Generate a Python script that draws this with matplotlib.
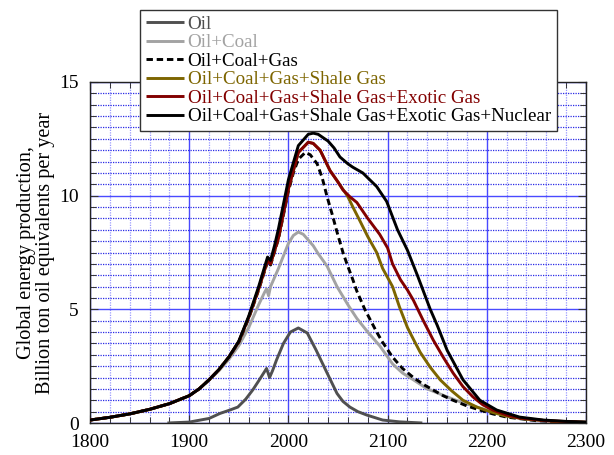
import matplotlib

matplotlib.use("Agg")
import matplotlib.pyplot as plt
from matplotlib import font_manager
from matplotlib.ticker import MultipleLocator

# -- values (year, billion toe / yr) -------------------------------------------

oil_years = [1878, 1900, 1920, 1931, 1941, 1949, 1957, 1964, 1970, 1978, 1981,
             1984, 1988, 1995, 2002, 2010, 2019, 2028, 2039, 2049, 2055, 2062,
             2070, 2079, 2095, 2112, 2135]
oil_vals = [0.0, 0.04, 0.2, 0.42, 0.57, 0.7, 1.05, 1.45, 1.85, 2.4, 2.0,
            2.3, 2.77, 3.5, 4.0, 4.18, 3.96, 3.2, 2.2, 1.3, 0.95, 0.7,
            0.5, 0.35, 0.13, 0.05, 0.0]

coal_years = [1800, 1820, 1840, 1860, 1880, 1900, 1910, 1920, 1930, 1940, 1950,
              1960, 1970, 1976, 1978, 1980, 1982, 1990, 2000, 2005, 2010, 2015,
              2020, 2025, 2030, 2039, 2049, 2060, 2069, 2080, 2092, 2105, 2115,
              2126, 2140, 2160, 2175, 2193, 2210, 2226, 2250, 2275, 2300]
coal_vals = [0.13, 0.25, 0.4, 0.6, 0.85, 1.2, 1.5, 1.88, 2.3, 2.8, 3.4,
             4.2, 5.2, 5.75, 5.9, 5.6, 6.0, 6.8, 7.9, 8.25, 8.4, 8.3,
             8.05, 7.8, 7.45, 6.9, 6.0, 5.2, 4.6, 4.0, 3.4, 2.6, 2.2,
             1.9, 1.5, 1.15, 0.9, 0.66, 0.45, 0.26, 0.13, 0.07, 0.04]

gas_years = [1800, 1820, 1840, 1860, 1880, 1900, 1910, 1920, 1930, 1940, 1950,
             1960, 1970, 1979, 1982, 1990, 2000, 2005, 2010, 2017, 2022, 2029,
             2034, 2039, 2044, 2049, 2055, 2059, 2065, 2069, 2077, 2083, 2089,
             2095, 2105, 2115, 2126, 2136, 2146, 2156, 2166, 2180, 2193, 2206,
             2220, 2250, 2275, 2300]
gas_vals = [0.13, 0.25, 0.4, 0.6, 0.85, 1.2, 1.5, 1.9, 2.35, 2.9, 3.55,
            4.6, 5.85, 7.1, 6.95, 8.1, 10.2, 11.0, 11.6, 11.9, 11.8, 11.4,
            10.8, 9.95, 9.2, 8.4, 7.5, 7.0, 6.3, 5.8, 5.0, 4.5, 4.0,
            3.55, 2.9, 2.4, 2.0, 1.7, 1.45, 1.2, 1.0, 0.75, 0.57, 0.4,
            0.26, 0.1, 0.05, 0.02]

shale_years = [1800, 1820, 1840, 1860, 1880, 1900, 1910, 1920, 1930, 1940, 1950,
               1960, 1970, 1979, 1982, 1990, 2000, 2010, 2020, 2025, 2032, 2042,
               2050, 2057, 2060, 2065, 2072, 2080, 2089, 2095, 2105, 2112, 2120,
               2127, 2133, 2143, 2153, 2165, 2176, 2190, 2203, 2220, 2240, 2270,
               2300]
shale_vals = [0.13, 0.25, 0.4, 0.6, 0.85, 1.2, 1.5, 1.9, 2.35, 2.9, 3.58,
              4.65, 5.9, 7.15, 7.0, 8.15, 10.3, 11.9, 12.35, 12.3, 12.0, 11.1,
              10.6, 10.15, 9.95, 9.5, 8.9, 8.2, 7.5, 6.8, 6.0, 5.1, 4.2,
              3.6, 3.1, 2.45, 1.9, 1.4, 1.0, 0.7, 0.5, 0.3, 0.17, 0.07,
              0.03]

exotic_years = [1800, 1820, 1840, 1860, 1880, 1900, 1910, 1920, 1930, 1940, 1950,
                1960, 1970, 1979, 1982, 1990, 2000, 2010, 2020, 2025, 2032, 2042,
                2050, 2055, 2062, 2069, 2080, 2092, 2100, 2105, 2113, 2120, 2126,
                2136, 2146, 2156, 2166, 2176, 2186, 2196, 2206, 2220, 2233, 2260,
                2300]
exotic_vals = [0.13, 0.25, 0.4, 0.6, 0.85, 1.2, 1.5, 1.9, 2.35, 2.9, 3.58,
               4.65, 5.9, 7.15, 7.0, 8.15, 10.3, 11.9, 12.35, 12.3, 12.0, 11.1,
               10.6, 10.25, 9.95, 9.7, 9.0, 8.3, 7.7, 7.0, 6.3, 5.85, 5.4,
               4.5, 3.65, 2.9, 2.2, 1.6, 1.15, 0.8, 0.57, 0.35, 0.22, 0.1,
               0.03]

nuclear_years = [1800, 1820, 1840, 1860, 1880, 1900, 1910, 1920, 1930, 1940, 1950,
                 1960, 1970, 1979, 1982, 1986, 1990, 2000, 2010, 2020, 2025, 2030,
                 2040, 2046, 2052, 2060, 2065, 2075, 2089, 2099, 2110, 2120, 2130,
                 2143, 2150, 2160, 2176, 2193, 2210, 2233, 2257, 2280, 2300]
nuclear_vals = [0.13, 0.25, 0.4, 0.6, 0.85, 1.2, 1.5, 1.9, 2.35, 2.9, 3.6,
                4.7, 6.0, 7.3, 7.15, 7.8, 8.55, 10.7, 12.2, 12.7, 12.75, 12.7,
                12.4, 12.1, 11.7, 11.4, 11.25, 11.0, 10.4, 9.75, 8.5, 7.6, 6.5,
                5.0, 4.3, 3.2, 1.9, 1.0, 0.57, 0.26, 0.13, 0.07, 0.04]

series = [
    ("Oil", oil_years, oil_vals, "#505050", "-"),
    ("Oil+Coal", coal_years, coal_vals, "#a3a3a3", "-"),
    ("Oil+Coal+Gas", gas_years, gas_vals, "#000000", (0, (2.2, 1.3))),
    ("Oil+Coal+Gas+Shale Gas", shale_years, shale_vals, "#7d6500", "-"),
    ("Oil+Coal+Gas+Shale Gas+Exotic Gas", exotic_years, exotic_vals, "#820000", "-"),
    ("Oil+Coal+Gas+Shale Gas+Exotic Gas+Nuclear", nuclear_years, nuclear_vals, "#000000", "-"),
]

# Times-like face; take whichever serif is actually installed.
installed = {f.name for f in font_manager.fontManager.ttflist}
serif = [n for n in ("Liberation Serif", "Times New Roman", "Nimbus Roman",
                     "DejaVu Serif") if n in installed]
plt.rcParams["font.family"] = "serif"
plt.rcParams["font.serif"] = serif + ["DejaVu Serif"]

fig = plt.figure(figsize=(6.14, 4.55), dpi=100)
ax = fig.add_axes([90 / 614, 1 - 423 / 455, 496 / 614, 341 / 455])

for name, xs, ys, c, ls in series:
    ax.plot(xs, ys, color=c, ls=ls, lw=2.1, label=name, zorder=3,
            solid_capstyle="butt", dash_capstyle="butt", solid_joinstyle="round")

ax.set_xlim(1800, 2300)
ax.set_ylim(0, 15)
ax.xaxis.set_major_locator(MultipleLocator(100))
ax.xaxis.set_minor_locator(MultipleLocator(20))
ax.yaxis.set_major_locator(MultipleLocator(5))
ax.yaxis.set_minor_locator(MultipleLocator(0.5))

ax.xaxis.grid(True, which="major", color="#4a4aff", lw=1.0, ls="-")
ax.yaxis.grid(True, which="major", color="#4a4aff", lw=1.0, ls="-")
ax.xaxis.grid(True, which="minor", color="#9a9aff", lw=0.9, ls=(0, (1, 1)))
ax.yaxis.grid(True, which="minor", color="#2a2ae6", lw=0.9, ls=(0, (1, 1)))
ax.set_axisbelow(True)

ax.tick_params(which="both", direction="in", top=True, right=True,
               labelsize=14, pad=8, color="#333333")
ax.tick_params(which="major", length=6, width=0.8)
ax.tick_params(which="minor", length=4, width=0.7)
for s in ax.spines.values():
    s.set_color("#222222")
    s.set_linewidth(1.0)

fig.text(36 / 614, 1 - 253 / 455,
         "Global energy production,\nBillion ton oil equivalents per year",
         rotation=90, ha="center", va="center", fontsize=14.6, linespacing=1.0)

leg = fig.legend(loc="upper left", bbox_to_anchor=(140 / 614, 1 - 10 / 455),
                 fontsize=13.7, frameon=True, fancybox=False, framealpha=1,
                 edgecolor="#333333", handlelength=2.0, handletextpad=0.2,
                 labelspacing=0.06, borderpad=0.3, borderaxespad=0,
                 labelcolor="linecolor")
leg.get_frame().set_linewidth(1.0)

fig.savefig("out.png", dpi=100)
